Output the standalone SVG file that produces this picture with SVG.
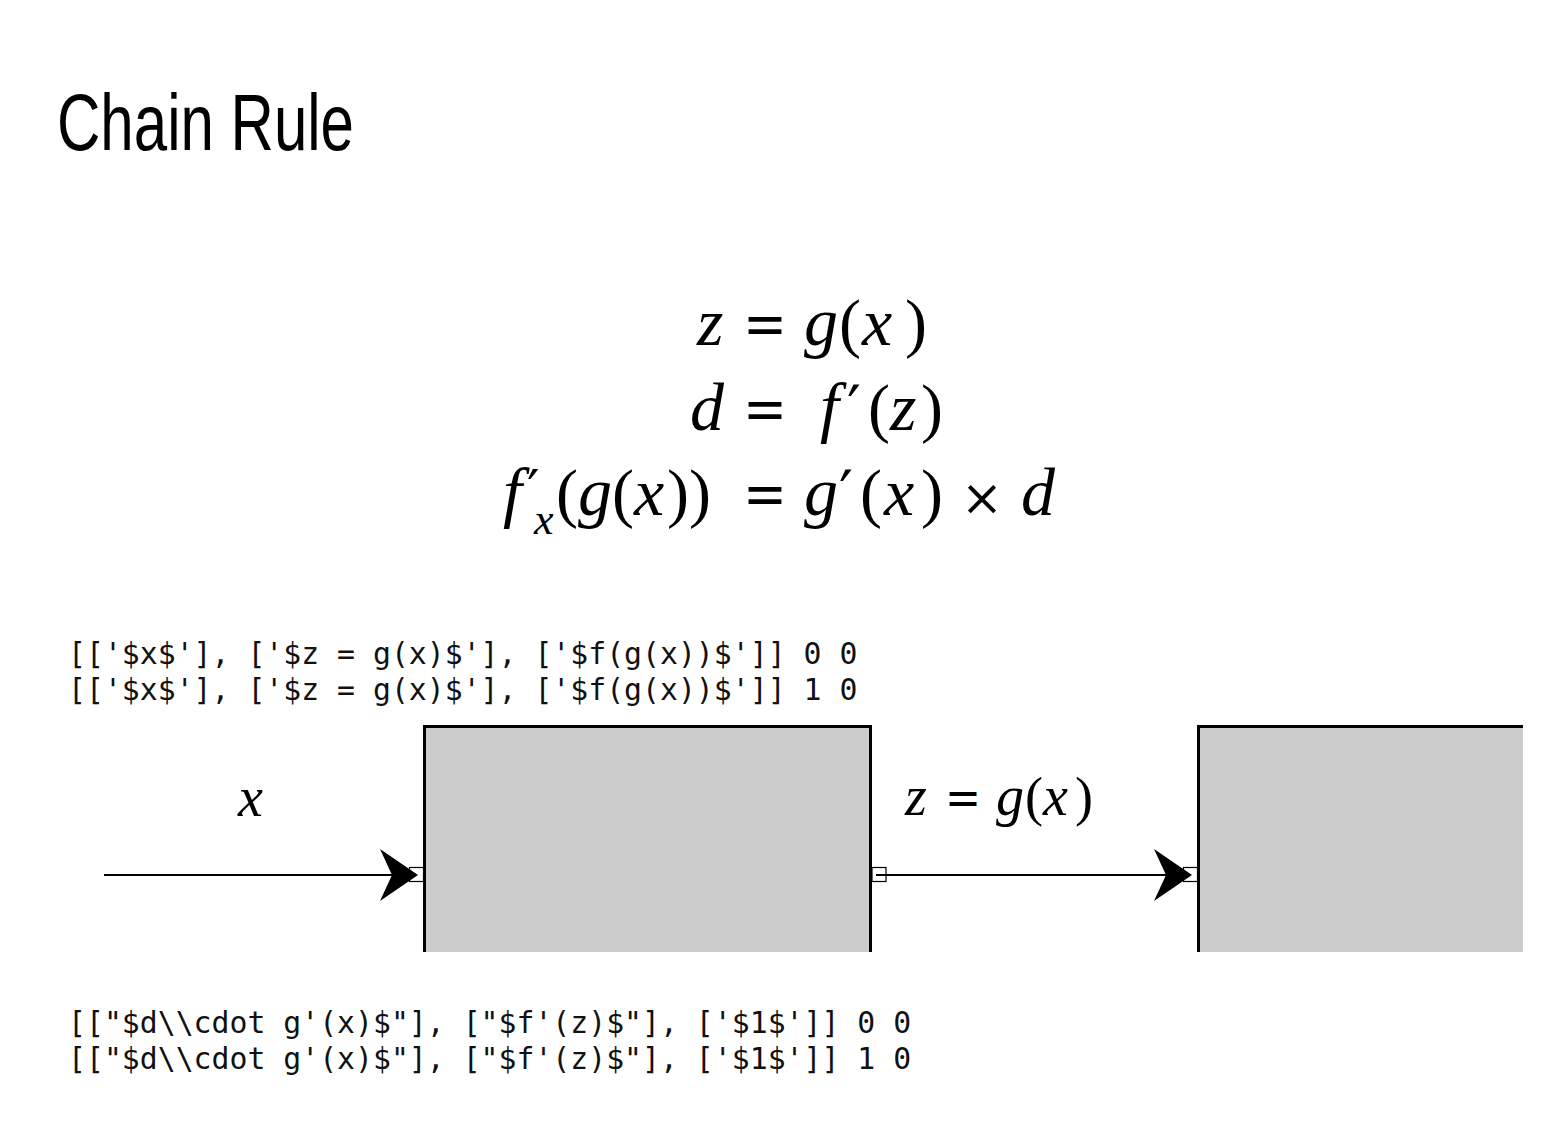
<svg xmlns="http://www.w3.org/2000/svg" width="1561" height="1138" viewBox="0 0 1561 1138">
<style>
.title{font-family:"Liberation Sans","Noto Sans",sans-serif;font-size:80px;fill:#000}
.mi{font-family:"Liberation Serif","DejaVu Serif",serif;font-style:italic;fill:#000}
.mu{font-family:"Liberation Serif","DejaVu Serif",serif;fill:#000}
.mo{font-family:"DejaVu Serif","Liberation Serif",serif;fill:#000}
.code{font-family:"DejaVu Sans Mono","Liberation Mono",monospace;font-size:29.8px;fill:#111;white-space:pre}
.box{fill:#cccccc}
.edge{fill:none;stroke:#000;stroke-width:3}
.port{fill:#fff;stroke:#000;stroke-width:1.2}
.wire{stroke:#000;stroke-width:2.2;fill:none}
.head{fill:#000;stroke:none}
</style>
<rect width="1561" height="1138" fill="#fff"/>
<text class="title" x="57" y="150" textLength="297" lengthAdjust="spacingAndGlyphs">Chain Rule</text>

<g id="equations">
  <text font-size="68"><tspan class="mi" x="697" y="345">z</tspan><tspan class="mo" x="743" y="345" font-size="62" textLength="44" lengthAdjust="spacingAndGlyphs">=</tspan><tspan class="mi" x="804" y="345">g</tspan><tspan class="mu" x="839" y="345" font-size="66">(</tspan><tspan class="mi" x="862" y="345">x</tspan><tspan class="mu" x="905" y="345" font-size="66">)</tspan></text>
  <text font-size="68"><tspan class="mi" x="690" y="430">d</tspan><tspan class="mo" x="743" y="430" font-size="62" textLength="44" lengthAdjust="spacingAndGlyphs">=</tspan><tspan class="mi" x="820" y="430">f</tspan><tspan class="mo" x="847" y="430" font-size="62">′</tspan><tspan class="mu" x="868" y="430" font-size="66">(</tspan><tspan class="mi" x="890" y="430">z</tspan><tspan class="mu" x="921" y="430" font-size="66">)</tspan></text>
  <text font-size="68"><tspan class="mi" x="503" y="515">f</tspan><tspan class="mo" x="527" y="510" font-size="56">′</tspan><tspan class="mi" x="534" y="534" font-size="44">x</tspan><tspan class="mu" x="556" y="515" font-size="66">(</tspan><tspan class="mi" x="578" y="515">g</tspan><tspan class="mu" x="612" y="515" font-size="66">(</tspan><tspan class="mi" x="634" y="515">x</tspan><tspan class="mu" x="667" y="515" font-size="66">)</tspan><tspan class="mu" x="689" y="515" font-size="66">)</tspan><tspan class="mo" x="743" y="515" font-size="62" textLength="44" lengthAdjust="spacingAndGlyphs">=</tspan><tspan class="mi" x="804" y="515">g</tspan><tspan class="mo" x="839" y="515" font-size="62">′</tspan><tspan class="mu" x="860" y="515" font-size="66">(</tspan><tspan class="mi" x="884" y="515">x</tspan><tspan class="mu" x="921" y="515" font-size="66">)</tspan><tspan class="mo" x="961" y="515" font-size="50">×</tspan><tspan class="mi" x="1021" y="515">d</tspan></text>
</g>

<g id="debug-text-top">
  <text class="code" x="68" y="664">[['$x$'], ['$z = g(x)$'], ['$f(g(x))$']] 0 0</text>
  <text class="code" x="68" y="700">[['$x$'], ['$z = g(x)$'], ['$f(g(x))$']] 1 0</text>
</g>
<g id="debug-text-bottom">
  <text class="code" x="68" y="1033">[["$d\\cdot g'(x)$"], ["$f'(z)$"], ['$1$']] 0 0</text>
  <text class="code" x="68" y="1069">[["$d\\cdot g'(x)$"], ["$f'(z)$"], ['$1$']] 1 0</text>
</g>

<g id="node-g">
  <rect class="box" x="424" y="726" width="447" height="226"/>
  <path class="edge" d="M424.5,952 V726.5 H870.5 V952"/>
  <rect class="port" x="409.5" y="867.5" width="14" height="14"/>
  <rect class="port" x="872" y="867.5" width="14" height="14"/>
</g>
<g id="node-f">
  <rect class="box" x="1198" y="726" width="325" height="226"/>
  <path class="edge" d="M1198.5,952 V726.5 H1523"/>
  <rect class="port" x="1183.5" y="867.5" width="14" height="14"/>
</g>

<g id="connectors">
  <line class="wire" x1="104" y1="875" x2="395" y2="875"/>
  <path class="head" d="M418,875 L380,849 L392,875 L380,901 Z"/>
  <line class="wire" x1="876" y1="875" x2="1168" y2="875"/>
  <path class="head" d="M1192,875 L1154,849 L1166,875 L1154,901 Z"/>
</g>

<g id="labels">
  <text class="mi" font-size="56" x="238" y="816">x</text>
  <text font-size="56"><tspan class="mi" x="905" y="815">z</tspan><tspan class="mo" x="945" y="815" font-size="50" textLength="36" lengthAdjust="spacingAndGlyphs">=</tspan><tspan class="mi" x="996" y="815">g</tspan><tspan class="mu" x="1025" y="815" font-size="54">(</tspan><tspan class="mi" x="1043" y="815">x</tspan><tspan class="mu" x="1075" y="815" font-size="54">)</tspan></text>
</g>
</svg>
